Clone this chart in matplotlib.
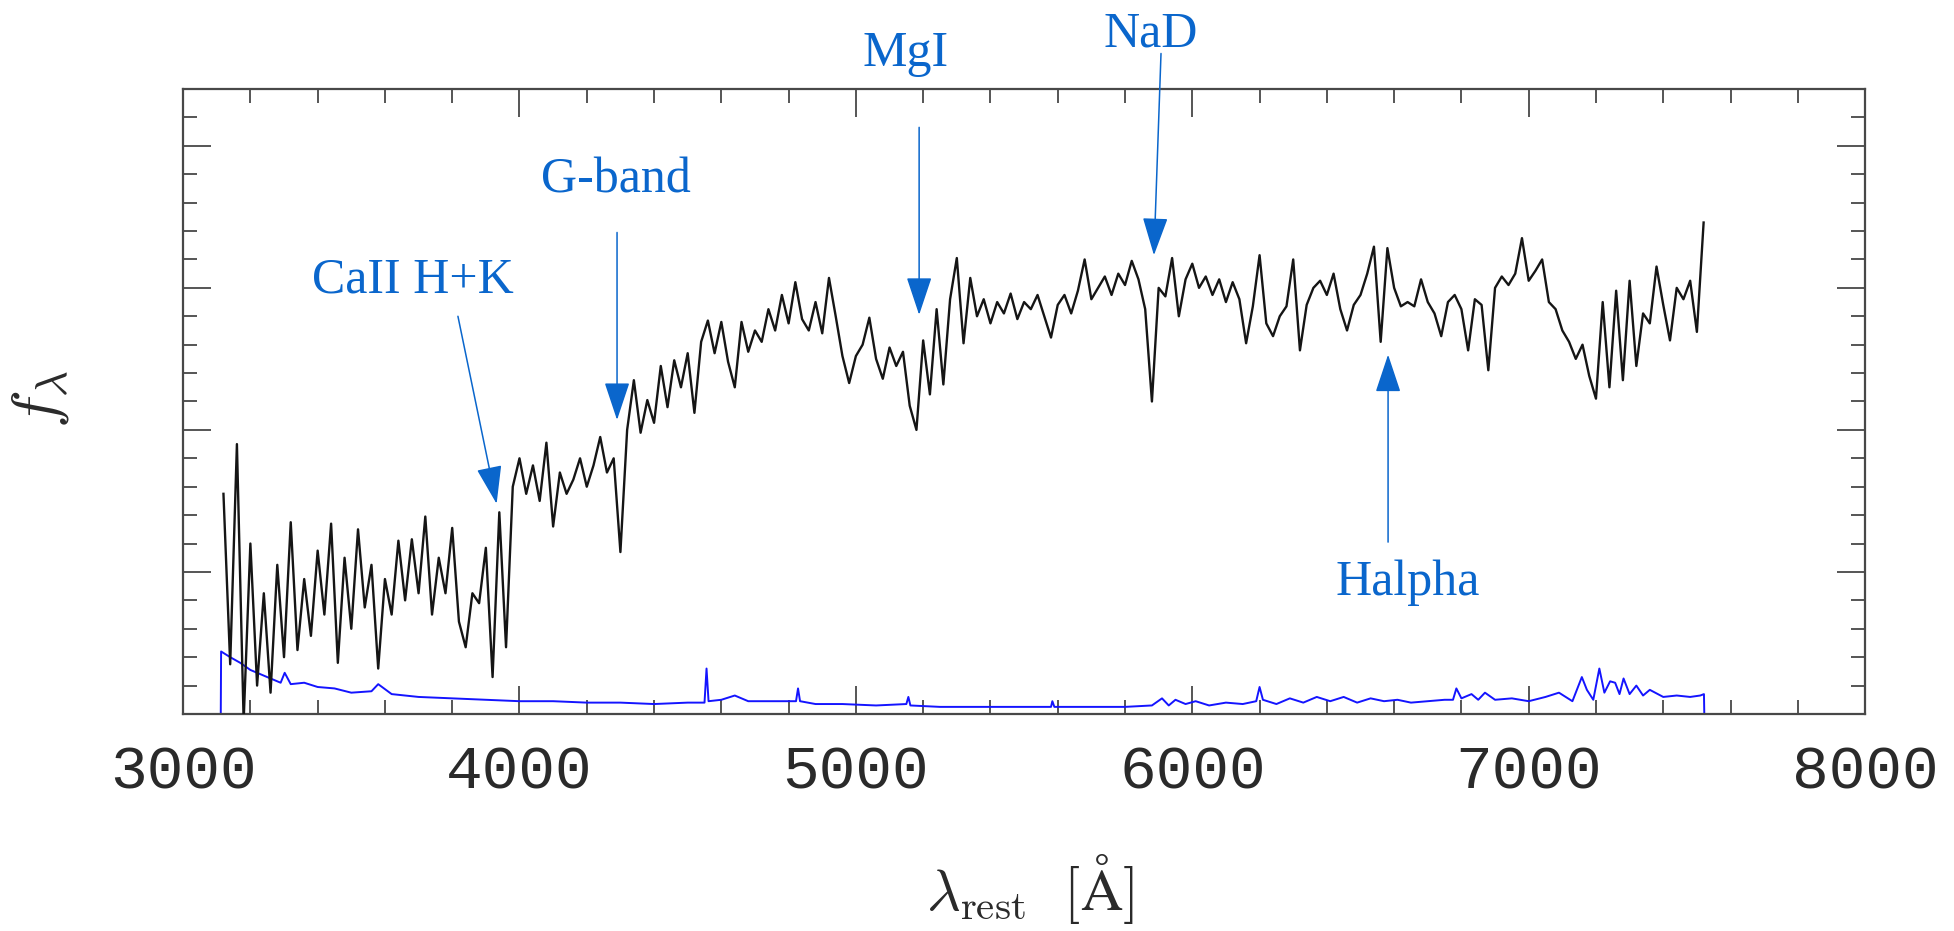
import numpy as np
import matplotlib.pyplot as plt
from matplotlib.ticker import MultipleLocator

plt.rcParams['mathtext.fontset'] = 'cm'

# galaxy spectrum, read every 20 A from 3120 to 7520 A
spec_wave = np.arange(3120, 7521, 20)
spec_flux = [
    1.55, 0.35, 1.90, -0.05, 1.20, 0.20, 0.85, 0.15, 1.05, 0.40,
    1.35, 0.45, 0.95, 0.55, 1.15, 0.70, 1.34, 0.36, 1.10, 0.60,
    1.30, 0.75, 1.05, 0.32, 0.95, 0.70, 1.22, 0.80, 1.23, 0.85,
    1.39, 0.70, 1.10, 0.85, 1.31, 0.65, 0.47, 0.85, 0.78, 1.17,
    0.26, 1.42, 0.47, 1.60, 1.80, 1.55, 1.75, 1.50, 1.91, 1.32,
    1.70, 1.55, 1.65, 1.80, 1.60, 1.75, 1.95, 1.70, 1.80, 1.14,
    2.00, 2.35, 1.98, 2.21, 2.05, 2.45, 2.16, 2.49, 2.30, 2.54,
    2.12, 2.62, 2.77, 2.54, 2.76, 2.48, 2.30, 2.76, 2.55, 2.70,
    2.62, 2.85, 2.70, 2.95, 2.75, 3.04, 2.78, 2.70, 2.90, 2.68,
    3.07, 2.80, 2.52, 2.33, 2.52, 2.60, 2.79, 2.50, 2.36, 2.58,
    2.45, 2.55, 2.17, 2.00, 2.63, 2.25, 2.85, 2.32, 2.92, 3.21,
    2.61, 3.07, 2.80, 2.92, 2.75, 2.90, 2.82, 2.96, 2.78, 2.90,
    2.85, 2.95, 2.80, 2.65, 2.88, 2.95, 2.82, 2.98, 3.20, 2.92,
    3.00, 3.08, 2.95, 3.10, 3.02, 3.19, 3.06, 2.85, 2.20, 3.00,
    2.94, 3.21, 2.80, 3.06, 3.17, 3.00, 3.08, 2.95, 3.06, 2.90,
    3.04, 2.92, 2.61, 2.87, 3.23, 2.75, 2.66, 2.80, 2.87, 3.20,
    2.56, 2.88, 3.00, 3.05, 2.95, 3.10, 2.85, 2.70, 2.88, 2.95,
    3.10, 3.29, 2.62, 3.28, 3.00, 2.87, 2.90, 2.87, 3.06, 2.90,
    2.82, 2.66, 2.90, 2.95, 2.85, 2.56, 2.92, 2.88, 2.42, 3.00,
    3.08, 3.02, 3.10, 3.35, 3.05, 3.12, 3.20, 2.90, 2.85, 2.70,
    2.62, 2.50, 2.60, 2.38, 2.22, 2.90, 2.30, 2.98, 2.35, 3.05,
    2.45, 2.82, 2.75, 3.15, 2.88, 2.63, 3.00, 2.92, 3.05, 2.69,
    3.46]

# error spectrum (blue)
err_wave = [3112, 3113, 3140, 3170, 3200, 3230, 3260, 3290, 3302, 3320,
            3360, 3400, 3450, 3500, 3560, 3580, 3620, 3700, 3800, 3900,
            4000, 4100, 4200, 4300, 4400, 4500, 4550, 4556, 4562, 4600,
            4640, 4680, 4760, 4822, 4828, 4834, 4880, 4960, 5060, 5150,
            5156, 5162, 5250, 5400, 5500, 5580, 5584, 5590, 5700, 5800,
            5880, 5910, 5930, 5950, 5980, 6010, 6050, 6100, 6150, 6190,
            6200, 6210, 6250, 6290, 6330, 6370, 6410, 6450, 6490, 6530,
            6570, 6610, 6650, 6700, 6750, 6775, 6785, 6800, 6830, 6850,
            6870, 6900, 6950, 7000, 7050, 7090, 7130, 7158, 7173, 7192,
            7210, 7225, 7242, 7257, 7270, 7282, 7300, 7320, 7340, 7360,
            7400, 7440, 7480, 7510, 7521, 7522]
err_flux = [0.00, 0.44, 0.40, 0.36, 0.31, 0.28, 0.25, 0.22, 0.29, 0.21,
            0.22, 0.19, 0.18, 0.15, 0.16, 0.21, 0.14, 0.12, 0.11, 0.10,
            0.09, 0.09, 0.08, 0.08, 0.07, 0.08, 0.08, 0.32, 0.09, 0.10,
            0.13, 0.09, 0.09, 0.09, 0.18, 0.09, 0.07, 0.07, 0.06, 0.07,
            0.12, 0.06, 0.05, 0.05, 0.05, 0.05, 0.09, 0.05, 0.05, 0.05,
            0.06, 0.11, 0.06, 0.10, 0.07, 0.09, 0.06, 0.08, 0.07, 0.09,
            0.19, 0.10, 0.07, 0.11, 0.08, 0.12, 0.09, 0.12, 0.08, 0.11,
            0.09, 0.10, 0.08, 0.09, 0.10, 0.10, 0.18, 0.11, 0.14, 0.10,
            0.15, 0.10, 0.11, 0.09, 0.12, 0.15, 0.09, 0.26, 0.17, 0.10,
            0.32, 0.15, 0.23, 0.22, 0.14, 0.25, 0.14, 0.20, 0.13, 0.17,
            0.12, 0.13, 0.12, 0.13, 0.14, 0.00]

# absorption features: label, arrow tip, arrow tail, label anchor (baseline)
line_names = ["CaII H+K", "G-band", "MgI", "NaD", "Halpha"]
line_tip = [(3932, 1.48), (4290, 2.07), (5188, 2.81), (5886, 3.23), (6582, 2.53)]
line_tail = [(3817, 2.80), (4290, 3.39), (5188, 4.13), (5907, 4.65), (6582, 1.21)]
line_label = [(3682, 2.965), (4286, 3.67), (5149, 4.56), (5877, 4.70), (6641, 0.84)]

LABEL_BLUE = '#0a66cc'
AXIS_GREY = '#484848'


def DrawSpectrum():
    figure = plt.figure(figsize=(19.54, 9.31), dpi=100)
    ax = figure.add_axes([0.0937, 0.2331, 0.8608, 0.6713])

    ax.plot(err_wave, err_flux, color='#1414ff', lw=1.4, zorder=2)
    ax.plot(spec_wave, spec_flux, color='#151515', lw=1.7, zorder=3)

    ax.set_xlim(3000, 8000)
    ax.set_ylim(0, 4.4)
    ax.xaxis.set_major_locator(MultipleLocator(1000))
    ax.xaxis.set_minor_locator(MultipleLocator(200))
    ax.yaxis.set_major_locator(MultipleLocator(1))
    ax.yaxis.set_minor_locator(MultipleLocator(0.2))
    ax.tick_params(which='both', direction='in', top=True, right=True,
                   color=AXIS_GREY, width=1.3)
    ax.tick_params(which='major', length=20)
    ax.tick_params(which='minor', length=10)
    ax.tick_params(axis='x', which='major', pad=22, labelsize=44, labelcolor='#2a2a2a')
    ax.set_yticklabels([])
    for label in ax.get_xticklabels():
        label.set_family('Liberation Mono')
    for spine in ax.spines.values():
        spine.set_color(AXIS_GREY)
        spine.set_linewidth(1.6)

    for name, tip, tail, pos in zip(line_names, line_tip, line_tail, line_label):
        ax.annotate('', xy=tip, xytext=tail, annotation_clip=False,
                    arrowprops=dict(arrowstyle='-|>,head_length=24,head_width=8',
                                    mutation_scale=1, shrinkA=0, shrinkB=0,
                                    lw=1.1, color=LABEL_BLUE))
        ax.text(pos[0], pos[1], name, color=LABEL_BLUE, fontsize=36,
                family='Liberation Serif', ha='center', va='baseline', clip_on=False)

    figure.text(0.527, 0.045, r'$\lambda_{\rm rest}\ \ [\mathrm{\AA}]$', fontsize=42,
                ha='center', va='center', color='#2a2a2a')
    figure.text(0.0205, 0.571, r'$f_\lambda$', fontsize=46, rotation=90,
                ha='center', va='center', color='#2a2a2a')

    figure.savefig('out.png', dpi=100)


if __name__ == "__main__":
    DrawSpectrum()
